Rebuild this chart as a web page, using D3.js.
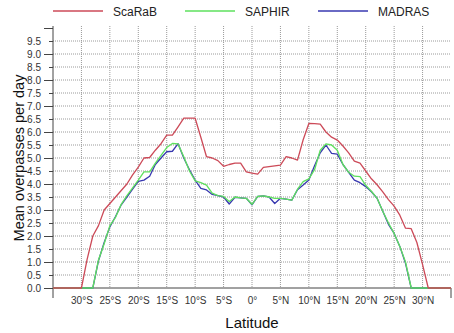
<!DOCTYPE html>
<html>
<head>
<meta charset="utf-8">
<script src="https://cdn.jsdelivr.net/npm/d3@7"></script>
<style>
  body { margin: 0; background: #fff; }
  svg { display: block; font-family: "Liberation Sans", Arial, sans-serif; }
</style>
</head>
<body>
<div id="viz"></div>
<script>
'use strict';

// latitude bins, 1 degree
const latitudes = d3.range(-35, 36);

const scarab = [
  0, 0, 0, 0, 0, 0, 1.1, 2.0, 2.4, 3.0, 3.25, 3.5, 3.75, 4.0, 4.35, 4.65, 5.0, 5.02, 5.3, 5.55,
  5.88, 5.88, 6.2, 6.53, 6.53, 6.53, 5.8, 5.05, 5.0, 4.9, 4.68, 4.75, 4.8, 4.8, 4.47,
  4.42,
  4.38, 4.64, 4.67, 4.7, 4.73, 5.05, 5.0, 4.92, 5.7, 6.33, 6.32, 6.3, 6.0, 5.8, 5.69,
  5.46, 5.2, 4.88, 4.8, 4.5, 4.2, 3.97, 3.7, 3.4, 3.15, 2.8, 2.3, 2.28, 1.75, 0.9, 0, 0, 0, 0, 0
];
const saphir = [
  0, 0, 0, 0, 0, 0, 0, 0, 1.08, 1.7, 2.4, 2.72, 3.22, 3.55, 3.85, 4.15, 4.47, 4.47, 4.8, 5.1,
  5.4, 5.56, 5.54, 5.05, 4.5, 4.12, 4.05, 3.96, 3.65, 3.55, 3.52, 3.33, 3.5, 3.47, 3.45,
  3.22,
  3.52, 3.54, 3.5, 3.45, 3.45, 3.42, 3.38, 3.8, 4.09, 4.2, 4.55, 5.3, 5.54, 5.5, 5.3,
  4.75, 4.45, 4.3, 4.28, 3.95, 3.72, 3.45, 2.95, 2.5, 2.1, 1.6, 1.0, 0, 0, 0, 0, 0, 0, 0, 0
];
const madras = [
  0, 0, 0, 0, 0, 0, 0, 0, 1.05, 1.75, 2.35, 2.75, 3.2, 3.5, 3.8, 4.1, 4.15, 4.3, 4.75, 5.0,
  5.24, 5.26, 5.55, 5.0, 4.55, 4.15, 3.83, 3.77, 3.6, 3.55, 3.5, 3.23, 3.49, 3.47, 3.45,
  3.2,
  3.52, 3.54, 3.5, 3.25, 3.45, 3.42, 3.38, 3.78, 3.96, 4.15, 4.7, 5.2, 5.5, 5.18, 5.15,
  4.75, 4.45, 4.15, 4.05, 3.9, 3.7, 3.45, 2.95, 2.45, 2.1, 1.6, 0.95, 0, 0, 0, 0, 0, 0, 0, 0
];

const xTicks = d3.range(-30, 31, 5);
const yTicks = d3.range(0, 10.01, 0.5);

const series = [
  { name: 'MADRAS', values: madras, color: '#3838b0' },
  { name: 'SAPHIR', values: saphir, color: '#5ee05e' },
  { name: 'ScaRaB', values: scarab, color: '#cc4a58' }
];
const legendOrder = ['ScaRaB', 'SAPHIR', 'MADRAS'];

const W = 454, H = 333;
const margin = { top: 28, right: 3, bottom: 45, left: 53 };
const width = W - margin.left - margin.right;
const height = H - margin.top - margin.bottom;

const svg = d3.select('#viz').append('svg')
  .attr('width', W).attr('height', H);
const g = svg.append('g').attr('transform', `translate(${margin.left},${margin.top})`);

const x = d3.scaleLinear().domain([-35, 35]).range([0, width]);
const y = d3.scaleLinear().domain([0, 10]).range([height, 0]);

const latLabel = d => d === 0 ? '0°' : Math.abs(d) + '°' + (d < 0 ? 'S' : 'N');

// grid
g.append('g').selectAll('line')
  .data(yTicks.filter(d => d > 0 && d < 10))
  .join('line')
  .attr('x1', 0).attr('x2', width)
  .attr('y1', d => y(d)).attr('y2', d => y(d))
  .attr('stroke', '#9a9a9a').attr('stroke-width', 1)
  .attr('stroke-dasharray', '1,1');
g.append('g').selectAll('line')
  .data(xTicks)
  .join('line')
  .attr('x1', d => x(d)).attr('x2', d => x(d))
  .attr('y1', -2).attr('y2', height)
  .attr('stroke', '#9a9a9a').attr('stroke-width', 1)
  .attr('stroke-dasharray', '1,1');

// y axis
const yAxis = g.append('g')
  .call(d3.axisLeft(y).tickValues(yTicks).tickSize(0).tickPadding(0)
    .tickFormat(d => d < 10 ? d.toFixed(1) : ''));
yAxis.select('.domain').remove();
yAxis.selectAll('.tick line')
  .attr('x2', d => Number.isInteger(d) ? -9 : -4)
  .attr('stroke', '#444');
yAxis.selectAll('.tick text')
  .attr('x', -12).attr('fill', '#333').style('font-size', '10px')
  .style('font-family', '"Liberation Sans", Arial, sans-serif');

// x axis
const xAxis = g.append('g')
  .attr('transform', `translate(0,${height})`)
  .call(d3.axisBottom(x).tickValues(xTicks).tickSize(0).tickPadding(9).tickFormat(latLabel));
xAxis.select('.domain').remove();
xAxis.selectAll('.tick text')
  .attr('fill', '#333').style('font-size', '10px')
  .style('font-family', '"Liberation Sans", Arial, sans-serif');

// frame lines
g.append('line').attr('x1', 0).attr('x2', 0).attr('y1', -2).attr('y2', height + 10)
  .attr('stroke', '#444');
g.append('line').attr('x1', width).attr('x2', width).attr('y1', height).attr('y2', height + 10)
  .attr('stroke', '#444');
g.append('line').attr('x1', 0).attr('x2', width).attr('y1', height).attr('y2', height)
  .attr('stroke', '#444');

// lines
const line = d3.line()
  .x((d, i) => x(latitudes[i]))
  .y(d => y(d));
g.selectAll('.series')
  .data(series)
  .join('path')
  .attr('class', 'series')
  .attr('fill', 'none')
  .attr('stroke', d => d.color)
  .attr('stroke-width', 1.3)
  .attr('stroke-linejoin', 'round')
  .attr('d', d => line(d.values));

// axis titles
svg.append('text')
  .attr('x', margin.left + x(0)).attr('y', 328)
  .attr('text-anchor', 'middle')
  .style('font-size', '15px').attr('fill', '#111')
  .text('Latitude');
svg.append('text')
  .attr('transform', 'translate(24,158) rotate(-90)')
  .attr('text-anchor', 'middle')
  .style('font-size', '14.5px').attr('fill', '#111')
  .text('Mean overpasses per day');

// legend
const legendX = [53, 185, 318];
const legend = svg.append('g');
legendOrder.forEach((name, i) => {
  const s = series.find(d => d.name === name);
  legend.append('line')
    .attr('x1', legendX[i]).attr('x2', legendX[i] + 50)
    .attr('y1', 11).attr('y2', 11)
    .attr('stroke', s.color).attr('stroke-width', 1.3);
  legend.append('text')
    .attr('x', legendX[i] + 60).attr('y', 15.5)
    .style('font-size', '12px').attr('fill', '#222')
    .text(name);
});
</script>
</body>
</html>
